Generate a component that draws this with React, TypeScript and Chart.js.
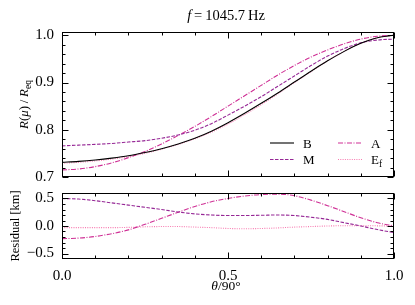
import React, { useEffect, useRef } from 'react';
import { Chart, registerables } from 'chart.js';

Chart.register(...registerables);

// ---------- data ----------
const THETA = [0, 0.05, 0.1, 0.15, 0.2, 0.25, 0.3, 0.35, 0.4, 0.45, 0.5, 0.55, 0.6, 0.65, 0.7, 0.75, 0.8, 0.85, 0.9, 0.95, 1.0];

const R_B = [0.731, 0.733, 0.736, 0.74, 0.745, 0.752, 0.76, 0.77, 0.782, 0.797, 0.815, 0.835, 0.856, 0.878, 0.901, 0.924, 0.946, 0.966, 0.983, 0.995, 1.0];
const R_M = [0.766, 0.7675, 0.769, 0.771, 0.774, 0.777, 0.782, 0.789, 0.799, 0.813, 0.831, 0.85, 0.87, 0.892, 0.914, 0.936, 0.956, 0.972, 0.984, 0.99, 0.992];
const R_A = [0.715, 0.717, 0.722, 0.73, 0.741, 0.754, 0.77, 0.788, 0.807, 0.828, 0.85, 0.872, 0.894, 0.916, 0.936, 0.954, 0.969, 0.982, 0.992, 0.998, 1.0];
const R_EF = [0.729, 0.731, 0.734, 0.738, 0.743, 0.75, 0.759, 0.769, 0.781, 0.795, 0.812, 0.832, 0.853, 0.876, 0.9, 0.923, 0.946, 0.966, 0.983, 0.995, 1.0];

const RES_M = [0.5, 0.49, 0.46, 0.42, 0.38, 0.34, 0.3, 0.255, 0.22, 0.2, 0.19, 0.19, 0.195, 0.2, 0.19, 0.16, 0.12, 0.06, 0.0, -0.065, -0.12];
const RES_A = [-0.23, -0.22, -0.19, -0.14, -0.07, 0.03, 0.14, 0.25, 0.355, 0.44, 0.5, 0.545, 0.572, 0.58, 0.55, 0.47, 0.37, 0.26, 0.15, 0.06, 0.0];
const RES_EF = [-0.03, -0.03, -0.03, -0.03, -0.025, -0.015, -0.01, -0.01, -0.02, -0.03, -0.045, -0.05, -0.045, -0.035, -0.02, -0.01, 0.0, 0.005, 0.005, 0.003, 0.0];

const TOP_Y_TICKS = [0.7, 0.8, 0.9, 1.0];
const TOP_Y_MINOR = [0.72, 0.74, 0.76, 0.78, 0.82, 0.84, 0.86, 0.88, 0.92, 0.94, 0.96, 0.98];
const BOT_Y_TICKS = [-0.5, 0, 0.5];
const BOT_Y_MINOR = [-0.4, -0.3, -0.2, -0.1, 0.1, 0.2, 0.3, 0.4];
const X_TICKS = [0, 0.5, 1.0];
const X_MINOR = [0.1, 0.2, 0.3, 0.4, 0.6, 0.7, 0.8, 0.9];

const TITLE_VALUE = '1045.7';

// ---------- styles ----------
const SERIF = '"Liberation Serif", "Times New Roman", serif';
const C_B = '#000000';
const C_M = '#962896';
const C_A = '#cf2f95';
const C_EF = '#f77ab0';
const DASH_M = [3.5, 1.5];
const DASH_A = [5, 1.5, 1, 1.5];
const DASH_EF = [1, 1.3];

type Part = { t: string; f: string; dy?: number };

function drawParts(ctx: CanvasRenderingContext2D, parts: Part[], x: number, y: number, rotate = false) {
  ctx.save();
  ctx.translate(x, y);
  if (rotate) ctx.rotate(-Math.PI / 2);
  ctx.textAlign = 'left';
  ctx.textBaseline = 'alphabetic';
  ctx.fillStyle = '#000';
  let w = 0;
  for (const p of parts) {
    ctx.font = p.f;
    w += ctx.measureText(p.t).width;
  }
  let cx = -w / 2;
  for (const p of parts) {
    ctx.font = p.f;
    ctx.fillText(p.t, cx, p.dy || 0);
    cx += ctx.measureText(p.t).width;
  }
  ctx.restore();
}

function drawFrame(chart: any, yMaj: number[], yMin: number[]) {
  const { ctx, chartArea: a, scales } = chart;
  const xs = scales.x;
  const ys = scales.y;
  const MAJ = 6;
  const MIN = 3;
  ctx.save();
  ctx.strokeStyle = '#000';
  ctx.lineWidth = 1;
  ctx.setLineDash([]);
  const L = Math.round(a.left) + 0.5;
  const R = Math.round(a.right) - 0.5;
  const T = Math.round(a.top) + 0.5;
  const B = Math.round(a.bottom) - 0.5;
  ctx.strokeRect(L, T, R - L, B - T);
  ctx.beginPath();
  const xt = (v: number, len: number) => {
    const px = Math.round(xs.getPixelForValue(v)) + 0.5;
    ctx.moveTo(px, B); ctx.lineTo(px, B - len);
    ctx.moveTo(px, T); ctx.lineTo(px, T + len);
  };
  const yt = (v: number, len: number) => {
    const py = Math.round(ys.getPixelForValue(v)) + 0.5;
    ctx.moveTo(L, py); ctx.lineTo(L + len, py);
    ctx.moveTo(R, py); ctx.lineTo(R - len, py);
  };
  X_TICKS.forEach((v) => xt(v, MAJ));
  X_MINOR.forEach((v) => xt(v, MIN));
  yMaj.forEach((v) => yt(v, MAJ));
  yMin.forEach((v) => yt(v, MIN));
  ctx.stroke();
  ctx.restore();
}

function makeDataset(label: string, ys: number[], color: string, dash: number[], width: number) {
  return {
    label,
    data: THETA.map((t, i) => ({ x: t, y: ys[i] })),
    borderColor: color,
    backgroundColor: color,
    borderWidth: width,
    borderDash: dash,
    pointRadius: 0,
    fill: false,
    cubicInterpolationMode: 'monotone' as const,
  };
}

function TopChart() {
  const ref = useRef<HTMLCanvasElement>(null);
  useEffect(() => {
    if (!ref.current) return;
    const overlay = {
      id: 'topOverlay',
      afterDraw(chart: any) {
        const ctx: CanvasRenderingContext2D = chart.ctx;
        drawFrame(chart, TOP_Y_TICKS, TOP_Y_MINOR);
        // title
        drawParts(ctx, [
          { t: 'f', f: `italic 14.5px ${SERIF}` },
          { t: '\u2009=\u2009', f: `14.5px ${SERIF}` },
          { t: TITLE_VALUE, f: `14.5px ${SERIF}` },
          { t: '\u2009Hz', f: `14.5px ${SERIF}` },
        ], 226, 20);
        // y label
        drawParts(ctx, [
          { t: 'R', f: `italic 13px ${SERIF}` },
          { t: '(', f: `13px ${SERIF}` },
          { t: 'μ', f: `italic 13px ${SERIF}` },
          { t: ')', f: `13px ${SERIF}` },
          { t: '\u2009/\u2009', f: `13px ${SERIF}` },
          { t: 'R', f: `italic 13px ${SERIF}` },
          { t: 'eq', f: `9.5px ${SERIF}`, dy: 3 },
        ], 28, 104.5, true);
        // legend
        const items = [
          { label: 'B', sub: '', color: C_B, dash: [] as number[], x: 270, y: 143 },
          { label: 'M', sub: '', color: C_M, dash: DASH_M, x: 270, y: 159.5 },
          { label: 'A', sub: '', color: C_A, dash: DASH_A, x: 338, y: 143 },
          { label: 'E', sub: 'f', color: C_EF, dash: DASH_EF, x: 338, y: 159.5 },
        ];
        ctx.save();
        for (const it of items) {
          ctx.strokeStyle = it.color;
          ctx.lineWidth = 1.1;
          ctx.setLineDash(it.dash);
          ctx.beginPath();
          ctx.moveTo(it.x, it.y);
          ctx.lineTo(it.x + 24, it.y);
          ctx.stroke();
          ctx.setLineDash([]);
          ctx.fillStyle = '#000';
          ctx.textAlign = 'left';
          ctx.textBaseline = 'alphabetic';
          ctx.font = `13px ${SERIF}`;
          ctx.fillText(it.label, it.x + 33, it.y + 4.5);
          if (it.sub) {
            const w = ctx.measureText(it.label).width;
            ctx.font = `9.5px ${SERIF}`;
            ctx.fillText(it.sub, it.x + 33 + w, it.y + 7.5);
          }
        }
        ctx.restore();
      },
    };
    const chart = new Chart(ref.current, {
      type: 'line',
      data: {
        datasets: [
          makeDataset('B', R_B, C_B, [], 1.1),
          makeDataset('M', R_M, C_M, DASH_M, 1.1),
          makeDataset('A', R_A, C_A, DASH_A, 1.1),
          makeDataset('E_f', R_EF, C_EF, DASH_EF, 1.1),
        ],
      },
      options: {
        responsive: false,
        animation: false,
        devicePixelRatio: 1,
        events: [],
        layout: { padding: { left: 0, right: 21, top: 32, bottom: 8 } },
        plugins: { legend: { display: false }, tooltip: { enabled: false }, title: { display: false } },
        scales: {
          x: { type: 'linear', min: 0, max: 1, display: false },
          y: {
            type: 'linear',
            min: 0.7,
            max: 1.007,
            grid: { display: false, drawTicks: false },
            border: { display: false },
            ticks: {
              font: { family: SERIF, size: 15 },
              color: '#000',
              padding: 8,
              callback: (v: any) => Number(v).toFixed(1),
            },
            afterBuildTicks: (s: any) => { s.ticks = TOP_Y_TICKS.map((v) => ({ value: v })); },
            afterFit: (s: any) => { s.width = 62; s.paddingTop = 0; s.paddingBottom = 0; },
          },
        },
      },
      plugins: [overlay],
    } as any);
    return () => chart.destroy();
  }, []);
  return <canvas ref={ref} width={415} height={185} style={{ position: 'absolute', left: 0, top: 0, width: 415, height: 185 }} />;
}

function BottomChart() {
  const ref = useRef<HTMLCanvasElement>(null);
  useEffect(() => {
    if (!ref.current) return;
    const overlay = {
      id: 'botOverlay',
      afterDraw(chart: any) {
        const ctx: CanvasRenderingContext2D = chart.ctx;
        drawFrame(chart, BOT_Y_TICKS, BOT_Y_MINOR);
        drawParts(ctx, [
          { t: 'Residual [km]', f: `12.5px ${SERIF}` },
        ], 18.5, 41, true);
        drawParts(ctx, [
          { t: 'θ', f: `italic 13.5px ${SERIF}` },
          { t: '/90°', f: `13.5px ${SERIF}` },
        ], 226, 104.5);
      },
    };
    const chart = new Chart(ref.current, {
      type: 'line',
      data: {
        datasets: [
          makeDataset('M', RES_M, C_M, DASH_M, 1.1),
          makeDataset('A', RES_A, C_A, DASH_A, 1.1),
          makeDataset('E_f', RES_EF, C_EF, DASH_EF, 1.1),
        ],
      },
      options: {
        responsive: false,
        animation: false,
        devicePixelRatio: 1,
        events: [],
        layout: { padding: { left: 0, right: 21, top: 8, bottom: 0 } },
        plugins: { legend: { display: false }, tooltip: { enabled: false }, title: { display: false } },
        scales: {
          x: {
            type: 'linear',
            min: 0,
            max: 1,
            grid: { display: false, drawTicks: false },
            border: { display: false },
            ticks: {
              font: { family: SERIF, size: 15 },
              color: '#000',
              padding: 8,
              autoSkip: false,
              maxRotation: 0,
              callback: (v: any) => Number(v).toFixed(1),
            },
            afterBuildTicks: (s: any) => { s.ticks = X_TICKS.map((v) => ({ value: v })); },
            afterFit: (s: any) => { s.height = 46; s.paddingLeft = 0; s.paddingRight = 0; },
          },
          y: {
            type: 'linear',
            min: -0.6,
            max: 0.6,
            grid: { display: false, drawTicks: false },
            border: { display: false },
            ticks: {
              font: { family: SERIF, size: 15 },
              color: '#000',
              padding: 8,
              callback: (v: any) => {
                const n = Number(v);
                if (Math.abs(n) < 1e-9) return '0.0';
                return (n < 0 ? '\u2212' : '') + Math.abs(n).toFixed(1);
              },
            },
            afterBuildTicks: (s: any) => { s.ticks = BOT_Y_TICKS.map((v) => ({ value: v })); },
            afterFit: (s: any) => { s.width = 62; s.paddingTop = 0; s.paddingBottom = 0; },
          },
        },
      },
      plugins: [overlay],
    } as any);
    return () => chart.destroy();
  }, []);
  return <canvas ref={ref} width={415} height={120} style={{ position: 'absolute', left: 0, top: 185, width: 415, height: 120 }} />;
}

export default function App() {
  return (
    <div style={{ position: 'absolute', left: 0, top: 0, width: 415, height: 305, background: '#fff', overflow: 'hidden' }}>
      <TopChart />
      <BottomChart />
    </div>
  );
}
